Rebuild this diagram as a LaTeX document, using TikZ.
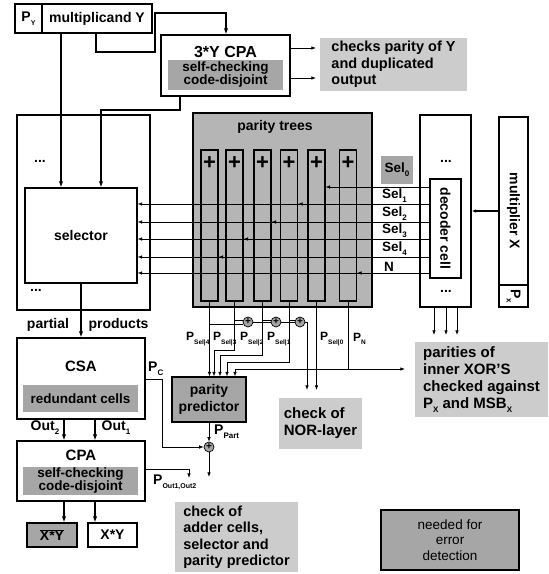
\documentclass[tikz,border=0pt]{standalone}
\usepackage{fontspec}
\setmainfont{Liberation Sans}
\usetikzlibrary{arrows.meta, positioning, calc}
\definecolor{dgray}{gray}{0.65}
\definecolor{tgray}{gray}{0.71}
\definecolor{lgray}{gray}{0.80}
\newcommand{\lo}[2]{\raisebox{-0.3em}{\fontsize{#1}{#1}\selectfont #2}}

\begin{document}
\begin{tikzpicture}[x=1pt, y=-1pt,
  box/.style={draw, line width=1.3pt, inner sep=0pt, align=center,
    font=\fontsize{14}{17}\selectfont\bfseries},
  inbox/.style={fill=dgray, inner sep=0pt, align=center,
    font=\fontsize{13.5}{13}\selectfont\bfseries},
  note/.style={fill=lgray, inner sep=0pt, align=left,
    font=\fontsize{14.5}{16.5}\selectfont\bfseries},
  col/.style={draw, line width=1.1pt, inner sep=0pt,
    minimum width=17pt, minimum height=151pt},
  xor/.style={circle, draw, fill=dgray, line width=0.7pt, inner sep=0pt,
    minimum size=10pt, font=\fontsize{10}{10}\selectfont\bfseries},
  lbl/.style={inner sep=1pt, font=\fontsize{14}{16}\selectfont\bfseries},
  plbl/.style={inner sep=0pt, anchor=west, font=\fontsize{12}{14}\selectfont\bfseries},
  wire/.style={line width=0.6pt, -{Latex[length=4.5pt,width=3.5pt]}},
  bus/.style={line width=1.4pt, -{Latex[length=6pt,width=4.5pt]}},
]
\useasboundingbox (0,0) rectangle (549,574);

% multiplicand and 3*Y CPA
\node[box, minimum width=27pt, minimum height=29pt] (py) at (28.5,18.5) {P\lo{7}{Y}};
\node[box, minimum width=110pt, minimum height=29pt] (mcand) at (97,18.5) {multiplicand Y};
\node[box, minimum width=129pt, minimum height=61pt] (cpa3) at (225.5,65.5) {};
\node[lbl, font=\fontsize{16}{18}\selectfont\bfseries] (cpa3t) at (225.5,52) {3*Y CPA};
\node[inbox, minimum width=115pt, minimum height=30pt] (cpa3i) at (225.5,75) {self-checking\\code-disjoint};
\node[note, minimum width=147pt, minimum height=53pt] (chk1) at (393.5,64.5) {checks parity of Y\\and duplicated\\output};

% selector
\node[box, minimum width=133pt, minimum height=195pt] (selo) at (83.5,212.5) {};
\node[box, minimum width=112pt, minimum height=95pt] (sel) at (81,235.5) {selector};
\node[lbl] (dots1) at (40,161) {...};
\node[lbl] (dots2) at (36,290) {...};

% parity trees
\node[box, fill=tgray, minimum width=179pt, minimum height=194pt] (ptree) at (282.5,210) {};
\node[lbl] (ptreet) at (275,127) {parity trees};
\foreach \i/\cx in {1/209.5, 2/234.5, 3/262.5, 4/289, 5/316.5, 6/348} {
  \node[col] (c\i) at (\cx,225.5) {};
  \node[font=\fontsize{22}{22}\selectfont\bfseries, inner sep=0pt] (pl\i) at (\cx,163) {+};
}

% decoder and multiplier X
\node[box, minimum width=51pt, minimum height=192pt] (dout) at (445.5,211) {};
\node[box, minimum width=31pt, minimum height=99pt] (dec) at (445.5,228.5) {};
\node[lbl, rotate=-90] (dect) at (dec.center) {decoder cell};
\node[lbl] (dots3) at (446,161) {...};
\node[lbl] (dots4) at (446,291) {...};
\node[box, minimum width=29pt, minimum height=168pt] (mulx) at (513.5,201) {};
\node[lbl, rotate=-90] (mulxt) at (513.5,211) {multiplier X};
\node[box, minimum width=29pt, minimum height=22pt] (px) at (513.5,296) {};
\node[lbl, rotate=-90] (pxt) at (px.center) {P\lo{8}{x}};

% select signals
\node[inbox, minimum width=32pt, minimum height=28pt] (sel0) at (397,170) {Sel\lo{8}{0}};
\draw[wire] (dec.west |- 0,187) -- (c5.east |- 0,187);
\foreach \y/\c in {204/4, 222/3, 239/2, 257/1, 273/6} {
  \draw[wire] (dec.west |- 0,\y) -- (sel.east |- 0,\y);
  \draw[wire] (dec.west |- 0,\y) -- (c\c.east |- 0,\y);
}
\foreach \y/\t in {204/1, 222/2, 239/3, 257/4} {
  \node[lbl, anchor=south west, font=\fontsize{13.5}{15}\selectfont\bfseries] (s\t) at (381,\y) {Sel\lo{8}{\t}};
}
\node[lbl, anchor=south west, font=\fontsize{13.5}{15}\selectfont\bfseries] (sn) at (383,273) {N};
\draw[wire, line width=1.4pt] (mulx.west |- 0,211) -- (dout.east |- 0,211);

% multiplicand paths
\draw[bus] (mcand.south -| 61,0) -- (sel.north -| 61,0);
\draw[bus] (mcand.south -| 96,0) |- (155,52) |- (226,13) -- (cpa3.north -| 226,0);
\draw[bus] (cpa3.south -| 180,0) |- (101,110) -- (sel.north -| 101,0);
\draw[wire, shorten >=4pt] (cpa3.east |- 0,48) -- (chk1.west |- 0,48);
\draw[wire, shorten >=4pt] (cpa3.east |- 0,78) -- (chk1.west |- 0,78);

% CSA and CPA
\node[box, minimum width=128pt, minimum height=81pt] (csa) at (81,378.5) {};
\node[lbl, font=\fontsize{15}{17}\selectfont\bfseries] (csat) at (81,366) {CSA};
\node[inbox, minimum width=115pt, minimum height=27pt] (csai) at (80.5,398.5) {redundant cells};
\node[box, minimum width=128pt, minimum height=60pt] (cpa) at (81,471) {};
\node[lbl, font=\fontsize{15}{17}\selectfont\bfseries] (cpat) at (81,455) {CPA};
\node[inbox, minimum width=115pt, minimum height=28pt] (cpai) at (80.5,481) {self-checking\\code-disjoint};
\node[box, fill=dgray, minimum width=50pt, minimum height=24pt] (xyb) at (52,535) {$\overline{\mbox{X*Y}}$};
\node[box, minimum width=49pt, minimum height=24pt] (xy) at (112.5,535) {X*Y};

\draw[bus] (sel.south) -- (csa.north);
\node[lbl] (ppa) at (48,325) {partial};
\node[lbl] (ppb) at (118.5,325) {products};
\draw[bus] (csa.south -| 64,0) -- (cpa.north -| 64,0);
\draw[bus] (csa.south -| 95,0) -- (cpa.north -| 95,0);
\node[lbl] (out2) at (45,428) {Out\lo{8}{2}};
\node[lbl] (out1) at (116,428) {Out\lo{8}{1}};
\draw[bus] (cpa.south -| 64,0) -- (xyb.north -| 64,0);
\draw[bus] (cpa.south -| 95,0) -- (xy.north -| 95,0);

% parity prediction
\node[box, fill=dgray, minimum width=74pt, minimum height=45pt] (pp) at (209,399.5) {parity\\predictor};
\node[xor] (x1) at (248,322) {+};
\node[xor] (x2) at (276,322) {+};
\node[xor] (x3) at (300,322) {+};
\node[xor] (xp) at (209,447) {+};

\draw[wire] (c1.south) -- (c1.south |- pp.north);
\draw[wire] (c2.south) -- (c2.south |- 0,350) -| (pp.north -| 214,0);
\draw[wire] (c3.south) -- (c3.south |- 0,355) -| (pp.north -| 220,0);
\draw[wire] (c4.south) -- (c4.south |- 0,362) -| (pp.north -| 227,0);
\draw (c6.south) -- (c6.south |- 0,369);
\draw[wire] (c6.south |- 0,369) -| (pp.north -| 235,0);

\draw (c1.south |- x1.200) -- (x1.200);
\draw (c2.south |- x1.160) -- (x1.160);
\draw (x1.east) -- (x2.west);
\draw (c3.south |- x2.160) -- (x2.160);
\draw (x2.east) -- (x3.west);
\draw (c4.south |- x3.160) -- (x3.160);

\node[plbl] (ps4) at (186,339) {P\lo{6.5}{Sel|4}};
\node[plbl] (ps3) at (213,339) {P\lo{6.5}{Sel|3}};
\node[plbl] (ps2) at (240,339) {P\lo{6.5}{Sel|2}};
\node[plbl] (ps1) at (267,339) {P\lo{6.5}{Sel|1}};
\node[plbl] (ps0) at (320,339) {P\lo{6.5}{Sel|0}};
\node[plbl] (psn) at (353,339) {P\lo{6.5}{N}};

\node[note, minimum width=83pt, minimum height=51pt, font=\fontsize{15}{17}\selectfont\bfseries] (nor) at (320.5,423.5) {check of\\NOR-layer};
\draw[wire, shorten >=8pt] (x3.east) -| (nor.north -| 307,0);
\draw[wire, shorten >=8pt] (c5.south) -- (c5.south |- nor.north);

\node[note, minimum width=133pt, minimum height=75pt, font=\fontsize{15}{17}\selectfont\bfseries] (par) at (481.5,379.5) {parities of\\inner XOR'S\\checked against\\P\lo{8}{X} and MSB\lo{8}{X}};
\draw[wire, shorten >=10pt] (c6.south |- 0,369) -- (par.west |- 0,369);
\foreach \x in {434,446,457} {
  \draw[wire, shorten >=7pt] (dout.south -| \x,0) -- (par.north -| \x,0);
}

\node[note, minimum width=123pt, minimum height=70pt] (adder) at (236.5,537) {check of\\adder cells,\\selector and\\parity predictor};
\draw[wire] (pp.south) -- (xp.north);
\node[plbl, font=\fontsize{14}{16}\selectfont\bfseries] (ppart) at (214,432) {P\lo{8}{Part}};
\draw[wire] (csa.east |- 0,379) -| (162,447) -- (xp.west);
\node[plbl, font=\fontsize{14}{16}\selectfont\bfseries] (pc) at (148,369) {P\lo{8}{C}};
\draw[wire, shorten >=25pt] (xp.south) -- (adder.north -| xp.south);
\draw[wire, shorten >=24pt] (cpa.east |- 0,469) -| (adder.north -| 189,0);
\node[plbl, font=\fontsize{14}{16}\selectfont\bfseries] (pout) at (153,482) {P\lo{7}{Out1,Out2}};

% legend
\node[box, fill=dgray, minimum width=138pt, minimum height=60pt, font=\fontsize{13.5}{15.5}\selectfont] (legend) at (450,540) {needed for\\error\\detection};
\end{tikzpicture}
\end{document}
